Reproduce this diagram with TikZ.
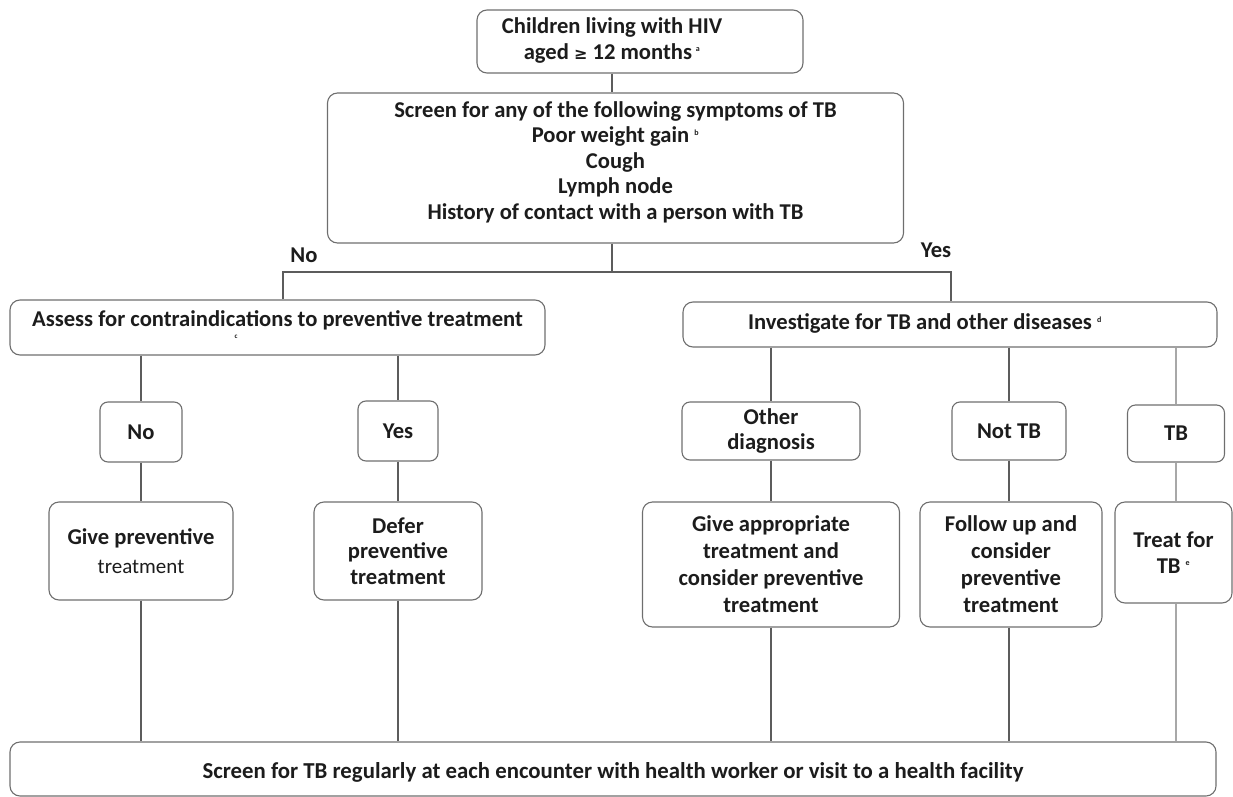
\documentclass[tikz,border=0pt]{standalone}
\usepackage{fontspec}
\setmainfont{Carlito}
\definecolor{boxgray}{HTML}{6E6E6E}
\definecolor{linegray}{HTML}{5C5C5C}
\definecolor{paleline}{HTML}{A8A8A8}
\definecolor{ink}{HTML}{1C1C1C}
% raise a centred stack of lines without changing its reported size
\newcommand\liftstack[2]{\raisebox{#1}[\height][\depth]{\begin{tabular}{@{}c@{}}#2\end{tabular}}}
% move a centred stack sideways by half of the given amount
\newcommand\slidestack[2]{\hspace*{#1}\begin{tabular}{@{}c@{}}#2\end{tabular}}
\newcommand\fn[1]{\textsuperscript{\fontsize{8}{8}\selectfont #1}}
\begin{document}
\begin{tikzpicture}[x=1pt,y=-1pt,
  box/.style={draw=boxgray, line width=1.1pt, rounded corners=10pt, align=center,
    inner sep=0pt, text=ink, font=\bfseries\fontsize{22.6}{25.5}\selectfont},
  smallbox/.style={box, rounded corners=8pt},
  link/.style={draw=linegray, line width=1.1pt},
  palelink/.style={draw=paleline, line width=1.1pt},
  branchlabel/.style={text=ink, font=\bfseries\fontsize{22.6}{25}\selectfont, inner sep=0pt},
]
\useasboundingbox (0,0) rectangle (1233,797);

% top of the chart
\node[box, minimum width=326pt, minimum height=63pt] (children) at (640,41.5)
  {\slidestack{-56pt}{Children living with HIV\\aged {\fontspec{DejaVu Sans}\fontsize{16}{16}\selectfont ≥} 12 months\,\fn{a}}};
\node[box, minimum width=576pt, minimum height=150pt] (screen) at (615.5,168)
  {\liftstack{5pt}{\fontsize{22.6}{26}\selectfont Screen for any of the following symptoms of TB\\
   Poor weight gain \fn{b}\\ Cough\\ Lymph node\\ History of contact with a person with TB}};

% the two branches
\node[box, minimum width=535pt, minimum height=55pt] (assess) at (277.5,327.5)
  {\raisebox{7pt}[\height][\depth]{Assess for contraindications to preventive treatment}};
\node[text=ink, font=\bfseries\fontsize{7}{7}\selectfont, inner sep=0pt] (fnc) at (236,337) {c};
\node[box, minimum width=534pt, minimum height=45pt] (investigate) at (950,324.5)
  {\slidestack{-50pt}{Investigate for TB and other diseases \fn{d}}};

\coordinate (trunk) at (612,272);
\coordinate (splitl) at (283,272);
\coordinate (splitr) at (951,272);
\node[branchlabel] (nolabel) at (304,255) {No};
\node[branchlabel] (yeslabel) at (936,250) {Yes};

% left branch
\node[smallbox, minimum width=82pt, minimum height=60pt] (no) at (141,432) {No};
\node[smallbox, minimum width=80pt, minimum height=60pt] (yes) at (398,431) {Yes};
\node[box, minimum width=184pt, minimum height=98pt] (give) at (141,551)
  {Give preventive\\[3pt]{\mdseries\fontsize{21}{22}\selectfont treatment}};
\node[box, minimum width=168pt, minimum height=98pt] (defer) at (398,551)
  {Defer\\ preventive\\ treatment};

% right branch
\node[smallbox, minimum width=178pt, minimum height=58pt] (other) at (771,431)
  {Other\\ diagnosis};
\node[smallbox, minimum width=114pt, minimum height=58pt] (nottb) at (1009,431)
  {Not TB};
\node[smallbox, minimum width=97pt, minimum height=57pt] (tb) at (1176,433.5)
  {TB};
\node[box, minimum width=257pt, minimum height=125pt, font=\bfseries\fontsize{22.6}{27}\selectfont] (appropriate) at (771,564.5)
  {Give appropriate\\ treatment and\\ consider preventive\\ treatment};
\node[box, minimum width=182pt, minimum height=125pt, font=\bfseries\fontsize{22.6}{27}\selectfont] (follow) at (1011,564.5)
  {Follow up and\\ consider\\ preventive\\ treatment};
\node[box, minimum width=117pt, minimum height=101pt] (treat) at (1173.5,552.5)
  {Treat for\\ TB \fn{e}};

% common final step
\node[box, minimum width=1206pt, minimum height=54pt] (regular) at (613,769)
  {\raisebox{-3pt}[\height][\depth]{\fontsize{22.8}{24}\selectfont Screen for TB regularly at each encounter with health worker or visit to a health facility}};

% connectors
\draw[link] (children.south -| trunk) -- (screen.north -| trunk);
\draw[link] (screen.south -| trunk) -- (trunk);
\draw[link] (assess.north -| splitl) -- (splitl) -- (splitr) -- (investigate.north -| splitr);

\draw[link] (assess.south -| no) -- (no.north);
\draw[link] (no.south) -- (give.north -| no);
\draw[link] (give.south) -- (regular.north -| give);
\draw[link] (assess.south -| yes) -- (yes.north);
\draw[link] (yes.south) -- (defer.north -| yes);
\draw[link] (defer.south) -- (regular.north -| defer);

\draw[link] (investigate.south -| other) -- (other.north);
\draw[link] (other.south) -- (appropriate.north -| other);
\draw[link] (appropriate.south) -- (regular.north -| appropriate);
\draw[link] (investigate.south -| nottb) -- (nottb.north);
\draw[link] (nottb.south) -- (follow.north -| nottb);
\draw[link] (follow.south -| nottb) -- (regular.north -| nottb);
\draw[palelink] (investigate.south -| tb) -- (tb.north);
\draw[palelink] (tb.south) -- (treat.north -| tb);
\draw[palelink] (treat.south -| tb) -- (regular.north -| tb);
\end{tikzpicture}
\end{document}
